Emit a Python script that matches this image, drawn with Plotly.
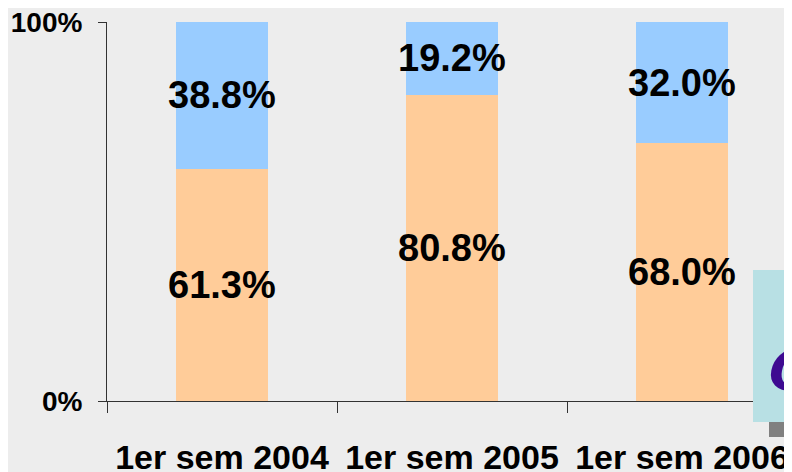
import plotly.graph_objects as go

categories = ["1er sem 2004", "1er sem 2005", "1er sem 2006"]
bottom_vals = [61.3, 80.8, 68.0]   # orange
top_vals = [38.8, 19.2, 32.0]      # blue
y_tick_vals = [0, 100]
y_tick_text = ["0%", "100%"]

FONT = "Liberation Sans, Arial, sans-serif"
OFF = 8  # page body margin
L, T, PW, PH = 107 - OFF, 22 - OFF, 685, 379
W, H = 792 - OFF, 472 - OFF

fig = go.Figure()
fig.add_trace(go.Bar(x=categories, y=bottom_vals, marker=dict(color="#FFCC99", line=dict(width=0)),
                     width=0.4, showlegend=False, hoverinfo="skip"))
fig.add_trace(go.Bar(x=categories, y=top_vals, marker=dict(color="#99CCFF", line=dict(width=0)),
                     width=0.4, showlegend=False, hoverinfo="skip"))

for c, b, t in zip(categories, bottom_vals, top_vals):
    fig.add_annotation(x=c, y=b / 2, text=f"{b:.1f}%", showarrow=False,
                       font=dict(family=FONT, size=38, color="black", weight="bold"))
    fig.add_annotation(x=c, y=b + t / 2, text=f"{t:.1f}%", showarrow=False,
                       font=dict(family=FONT, size=38, color="black", weight="bold"))

def px_x(p):
    return (p - OFF - L) / PW

def px_y(p):
    return (T + PH - (p - OFF)) / PH

# decorative box at right edge
fig.add_shape(type="rect", xref="paper", yref="paper", x0=px_x(753), x1=px_x(800),
              y0=px_y(422), y1=px_y(270), fillcolor="#B8E0E4", line=dict(width=0), layer="above")
fig.add_shape(type="rect", xref="paper", yref="paper", x0=px_x(769), x1=px_x(800),
              y0=px_y(437), y1=px_y(422), fillcolor="#808080", line=dict(width=0), layer="above")
fig.add_annotation(xref="paper", yref="paper", x=px_x(766), y=px_y(334),
                   text="<i>¿</i>", showarrow=False, xanchor="left", yanchor="middle",
                   font=dict(family="DejaVu Serif, serif", size=104, color="#3D0A91"))

fig.update_layout(
    barmode="stack",
    width=W, height=H,
    margin=dict(l=L, r=W - L - PW, t=T, b=H - T - PH, autoexpand=False),
    paper_bgcolor="#EDEDED",
    plot_bgcolor="rgba(0,0,0,0)",
    xaxis=dict(type="category", range=[-0.5, 2.5 - (690 - PW) / 230], tickson="boundaries",
               ticks="outside", ticklen=11, tickcolor="#333333", showline=True,
               linecolor="#333333", linewidth=1, showgrid=False, automargin=False,
               tickfont=dict(family=FONT, size=34, color="black", weight="bold"),
               ticklabelstandoff=26, ticklabeloverflow="allow"),
    yaxis=dict(range=[0, 100], tickvals=y_tick_vals, ticktext=y_tick_text, ticks="outside",
               ticklen=8, tickcolor="#333333", showline=True, linecolor="#333333", linewidth=1,
               showgrid=False, zeroline=False, automargin=False,
               tickfont=dict(family=FONT, size=28, color="black", weight="bold"),
               ticklabelstandoff=10, ticklabeloverflow="allow"),
)

fig.write_html("out.html")
